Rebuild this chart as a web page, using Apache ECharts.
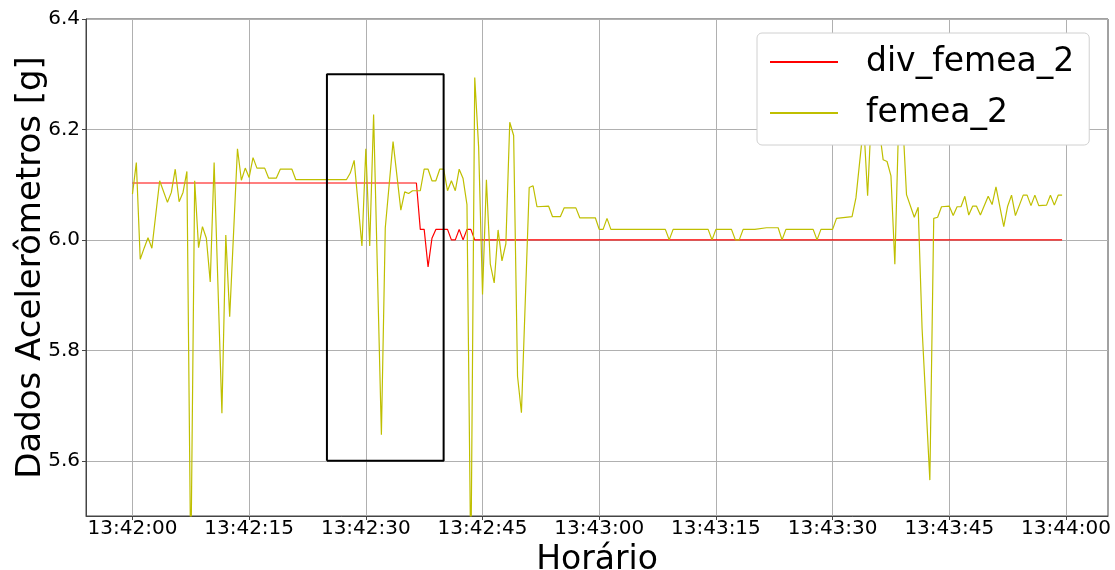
<!DOCTYPE html>
<html>
<head>
<meta charset="utf-8">
<title>femea_2</title>
<script src="https://cdn.jsdelivr.net/npm/echarts@6/dist/echarts.min.js"></script>
<style>
  html, body { margin: 0; padding: 0; background: #fff; }
  #chart { width: 1115px; height: 570px; }
</style>
</head>
<body>
<div id="chart"></div>
<script>
// seconds after 13:42:00
var femeaT = [0, 0.5, 1.0, 1.5, 2.0, 2.5, 3.5, 4.5, 5.0, 5.5, 6.0, 6.5, 7.0, 7.5, 8.0, 8.5, 9.0, 9.5, 10.0, 10.5,
  11.5, 12.0, 12.5, 13.5, 14.0, 14.5, 15.0, 15.5, 16.0, 17.0, 17.5, 18.5, 19.0, 20.5, 21.0, 27.5, 28.0, 28.5, 29.5, 30.0,
  30.5, 31.0, 32.0, 32.5, 33.5, 34.5, 35.0, 35.5, 36.0, 37.0, 37.5, 38.0, 38.5, 39.0, 39.5, 40.0, 40.5, 41.0, 41.5, 42.0,
  42.5, 43.0, 43.5, 44.0, 44.5, 45.0, 45.5, 46.0, 46.5, 47.0, 47.5, 48.0, 48.5, 49.0, 49.5, 50.0, 51.0, 51.5, 52.0, 53.5,
  54.0, 55.0, 55.5, 57.0, 57.5, 59.5, 60.0, 60.5, 61.0, 61.5, 68.5, 69.0, 69.5, 74.0, 74.5, 75.0, 77.0, 77.5, 78.0, 78.5,
  80.0, 81.5, 83.0, 83.5, 84.0, 87.5, 88.0, 88.5, 90.0, 90.5, 92.5, 93.0, 93.5, 94.0, 94.5, 95.0, 95.5, 96.0, 96.5, 97.0,
  97.5, 98.0, 98.5, 99.0, 99.5, 100.5, 101.0, 101.5, 102.5, 103.0, 103.5, 104.0, 105.0, 105.5, 106.0, 106.5, 107.0, 107.5, 108.0, 108.5,
  109.0, 110.0, 110.5, 111.0, 112.0, 112.5, 113.0, 113.5, 114.5, 115.0, 115.5, 116.0, 116.5, 117.5, 118.0, 118.5, 119.0, 119.5];
var femeaV = [6.083, 6.140, 5.965, 5.985, 6.004, 5.985, 6.107, 6.068, 6.086, 6.128, 6.069, 6.086, 6.124, 5.40, 6.107, 5.986, 6.024, 6.003, 5.924, 6.140,
  5.686, 6.009, 5.861, 6.165, 6.108, 6.130, 6.113, 6.149, 6.130, 6.130, 6.112, 6.112, 6.128, 6.128, 6.109, 6.109, 6.121, 6.144, 5.989, 6.165,
  5.989, 6.227, 5.647, 6.022, 6.178, 6.054, 6.087, 6.084, 6.089, 6.089, 6.128, 6.128, 6.107, 6.107, 6.128, 6.128, 6.089, 6.107, 6.089, 6.128,
  6.111, 6.064, 5.40, 6.294, 6.168, 5.901, 6.109, 5.956, 5.922, 6.018, 5.962, 5.993, 6.213, 6.189, 5.753, 5.687, 6.095, 6.098, 6.060, 6.061,
  6.042, 6.042, 6.058, 6.058, 6.040, 6.040, 6.019, 6.019, 6.039, 6.019, 6.019, 6.000, 6.019, 6.019, 6.000, 6.019, 6.019, 6.000, 6.000, 6.019,
  6.019, 6.022, 6.022, 6.000, 6.019, 6.019, 6.000, 6.019, 6.019, 6.039, 6.042, 6.076, 6.144, 6.21, 6.080, 6.23, 6.22, 6.20, 6.145, 6.142,
  6.116, 5.956, 6.22, 6.22, 6.082, 6.041, 6.059, 5.840, 5.565, 6.039, 6.041, 6.060, 6.061, 6.044, 6.060, 6.060, 6.079, 6.045, 6.061, 6.061,
  6.045, 6.079, 6.064, 6.096, 6.024, 6.061, 6.081, 6.044, 6.081, 6.081, 6.062, 6.081, 6.062, 6.063, 6.081, 6.063, 6.081, 6.081];

var divT = [0, 36.5, 37.0, 37.5, 38.0, 38.5, 39.0, 40.5, 41.0, 41.5, 42.0, 42.5, 43.0, 43.5, 44.0, 119.5];
var divV = [6.103, 6.103, 6.019, 6.019, 5.951, 6.003, 6.019, 6.019, 6.000, 6.000, 6.019, 6.000, 6.019, 6.019, 6.000, 6.000];

// highlighted window
var boxT = [25, 25, 40, 40, 25];
var boxV = [5.6, 6.3, 6.3, 5.6, 5.6];

var xTicks = [0, 15, 30, 45, 60, 75, 90, 105, 120];
var yTicks = [5.6, 5.8, 6.0, 6.2, 6.4];

function pairs(t, v) {
  return t.map(function (x, i) { return [x, v[i]]; });
}
function clock(s) {
  var total = 13 * 3600 + 42 * 60 + Math.round(s);
  var h = Math.floor(total / 3600), m = Math.floor(total / 60) % 60, sec = total % 60;
  var p = function (n) { return (n < 10 ? '0' : '') + n; };
  return p(h) + ':' + p(m) + ':' + p(sec);
}

var font = 'DejaVu Sans';
var chart = echarts.init(document.getElementById('chart'));
var option = {
  animation: false,
  textStyle: { fontFamily: font },
  grid: {
    left: 86, right: 7, top: 19, bottom: 54,
    outerBoundsMode: 'none', containLabel: false,
    show: true, borderColor: '#444', borderWidth: 1
  },
  legend: {
    data: ['div_femea_2', 'femea_2'],
    orient: 'vertical',
    left: 757, top: 33,
    padding: [9, 15, 12, 13],
    itemWidth: 68, itemHeight: 2, itemGap: 11,
    icon: 'rect',
    backgroundColor: '#fff',
    borderColor: '#d0d0d0', borderWidth: 1, borderRadius: 5,
    textStyle: { fontFamily: font, fontSize: 33, color: '#000', lineHeight: 40, padding: [0, 0, 0, 23] }
  },
  xAxis: {
    type: 'value',
    min: -5.97, max: 125.4,
    name: 'Horário', nameLocation: 'middle', nameGap: 20,
    nameTextStyle: { fontFamily: font, fontSize: 33, color: '#000' },
    axisLine: { show: true, onZero: false, lineStyle: { color: '#444', width: 1 } },
    axisTick: { show: true, inside: false, length: 4, customValues: xTicks, lineStyle: { color: '#444' } },
    axisLabel: { customValues: xTicks, formatter: clock, fontSize: 20, color: '#000', margin: 3, fontFamily: font },
    splitLine: { show: true, lineStyle: { color: '#b0b0b0', width: 1 } }
  },
  yAxis: {
    type: 'value',
    min: 5.5, max: 6.4,
    name: 'Dados Acelerômetros [g]', nameLocation: 'middle', nameGap: 38, nameRotate: 90,
    nameMoveOverlap: false,
    nameTextStyle: { fontFamily: font, fontSize: 34, color: '#000' },
    axisLine: { show: true, onZero: false, lineStyle: { color: '#444', width: 1 } },
    axisTick: { show: true, inside: false, length: 4, customValues: yTicks, lineStyle: { color: '#444' } },
    axisLabel: { customValues: yTicks, formatter: function (v) { return v.toFixed(1); }, fontSize: 20, color: '#000', margin: 6, fontFamily: font },
    splitLine: { show: true, lineStyle: { color: '#b0b0b0', width: 1 } }
  },
  series: [
    {
      name: 'div_femea_2', type: 'line', data: pairs(divT, divV),
      symbol: 'none', color: '#ff0000', lineStyle: { width: 1.2, color: '#ff0000' }, z: 3
    },
    {
      name: 'femea_2', type: 'line', data: pairs(femeaT, femeaV),
      symbol: 'none', color: '#bfbf00', lineStyle: { width: 1.2, color: '#bfbf00' }, z: 3
    },
    {
      name: 'janela', type: 'line', data: pairs(boxT, boxV),
      symbol: 'none', color: '#000', lineStyle: { width: 2, color: '#000' }, z: 4, silent: true
    }
  ]
};
chart.setOption(option);
</script>
</body>
</html>
